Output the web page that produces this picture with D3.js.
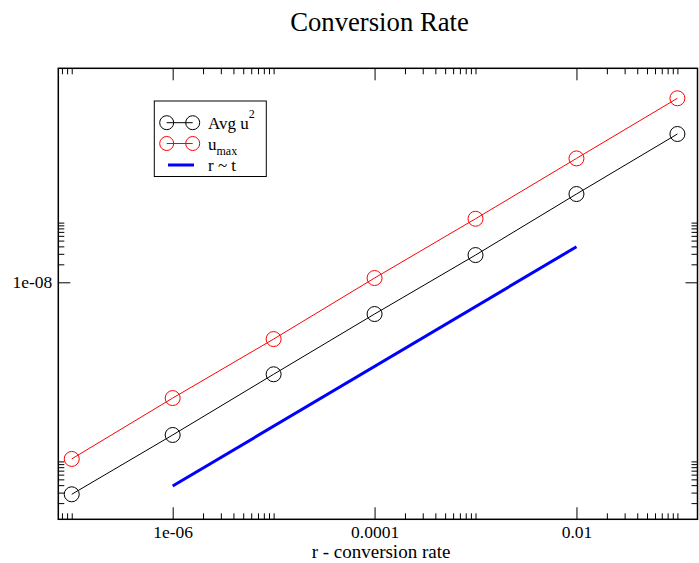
<!DOCTYPE html>
<html lang="en">
<head>
    <meta charset="UTF-8">
    <title>Conversion Rate</title>
    <script src="https://d3js.org/d3.v7.min.js"></script>
    <style>
        body { margin: 0; background: #fff; }
        svg text { font-family: "Liberation Serif"; }
    </style>
</head>
<body>
<script>
    // conversion rate r (x) and the two measured series
    const rates = [1e-7, 1e-6, 1e-5, 1e-4, 1e-3, 1e-2, 1e-1];
    const avgU2 = [2.81e-12, 2.77e-11, 2.88e-10, 2.94e-9, 2.86e-8, 3.01e-7, 3.05e-6];
    const uMax = [1.10e-11, 1.15e-10, 1.12e-9, 1.18e-8, 1.16e-7, 1.19e-6, 1.21e-5];
    // reference slope line r ~ t
    const refRates = [1e-6, 1e-2];
    const refValues = [3.87e-12, 3.94e-8];

    const xMajor = [1e-8, 1e-6, 1e-4, 1e-2, 1];
    const xLabels = ["1e-08", "1e-06", "0.0001", "0.01", "1"];
    const yMajor = [1e-12, 1e-8, 1e-4];
    const yLabels = ["1e-12", "1e-08", "0.0001"];

    const width = 699, height = 563;
    const pLeft = 58.3, pRight = 697.5, pTop = 68.3, pBottom = 519.3;
    const fontName = '"Liberation Serif"';

    const svg = d3.select("body").append("svg").attr("width", width).attr("height", height)
        .style("font-family", fontName);

    const x = d3.scaleLog().domain([Math.pow(10, -7.133), Math.pow(10, -0.801)]).range([pLeft, pRight]);
    const y = d3.scaleLog().domain([Math.pow(10, -11.97), Math.pow(10, -4.415)]).range([pBottom, pTop]);

    // minor ticks: 2..10 times each major, grace style
    const minors = majors => majors.flatMap(m => d3.range(2, 11).map(k => k * m));
    const inX = v => v >= x.domain()[0] && v <= x.domain()[1];
    const inY = v => v >= y.domain()[0] && v <= y.domain()[1];
    const xMinor = minors(xMajor).filter(inX);
    const yMinor = minors(yMajor).filter(inY);
    const xMaj = xMajor.filter(inX);
    const yMaj = yMajor.filter(inY);

    const fmtX = d => xLabels[xMajor.indexOf(d)];
    const fmtY = d => yLabels[yMajor.indexOf(d)];

    function axisGroup(axis, tx, ty) {
        const g = svg.append("g").attr("transform", `translate(${tx},${ty})`).call(axis);
        g.attr("font-family", null).attr("font-size", null);
        g.select(".domain").remove();
        g.selectAll("line").attr("stroke", "#000");
        g.selectAll("text").style("font-size", "17.5px").style("font-family", fontName).attr("fill", "#000");
        return g;
    }

    // bottom / top
    axisGroup(d3.axisBottom(x).tickValues(xMaj).tickSizeInner(-12).tickSizeOuter(0).tickPadding(6.5).tickFormat(fmtX), 0, pBottom);
    axisGroup(d3.axisBottom(x).tickValues(xMinor).tickSizeInner(-6).tickSizeOuter(0).tickFormat(""), 0, pBottom);
    axisGroup(d3.axisTop(x).tickValues(xMaj).tickSizeInner(-12).tickSizeOuter(0).tickFormat(""), 0, pTop);
    axisGroup(d3.axisTop(x).tickValues(xMinor).tickSizeInner(-6).tickSizeOuter(0).tickFormat(""), 0, pTop);
    // left / right
    axisGroup(d3.axisLeft(y).tickValues(yMaj).tickSizeInner(-12).tickSizeOuter(0).tickPadding(6).tickFormat(fmtY), pLeft, 0);
    axisGroup(d3.axisLeft(y).tickValues(yMinor).tickSizeInner(-6).tickSizeOuter(0).tickFormat(""), pLeft, 0);
    axisGroup(d3.axisRight(y).tickValues(yMaj).tickSizeInner(-12).tickSizeOuter(0).tickFormat(""), pRight, 0);
    axisGroup(d3.axisRight(y).tickValues(yMinor).tickSizeInner(-6).tickSizeOuter(0).tickFormat(""), pRight, 0);

    svg.append("rect")
        .attr("x", pLeft).attr("y", pTop)
        .attr("width", pRight - pLeft).attr("height", pBottom - pTop)
        .attr("fill", "none").attr("stroke", "#000").attr("stroke-width", 1.5);

    const line = d3.line().x(d => x(d[0])).y(d => y(d[1]));

    const series = [
        { values: avgU2, color: "#000" },
        { values: uMax, color: "#f00" }
    ];
    series.forEach(s => {
        const pts = rates.map((r, i) => [r, s.values[i]]);
        svg.append("path").datum(pts).attr("d", line)
            .attr("fill", "none").attr("stroke", s.color).attr("stroke-width", 1);
        svg.selectAll(null).data(pts).enter().append("circle")
            .attr("cx", d => x(d[0])).attr("cy", d => y(d[1])).attr("r", 7.5)
            .attr("fill", "none").attr("stroke", s.color).attr("stroke-width", 1);
    });

    svg.append("path").datum(refRates.map((r, i) => [r, refValues[i]])).attr("d", line)
        .attr("fill", "none").attr("stroke", "#00f").attr("stroke-width", 3);

    // title and axis label
    svg.append("text").attr("x", 379.5).attr("y", 31)
        .attr("text-anchor", "middle").style("font-size", "26.7px").text("Conversion Rate");
    svg.append("text").attr("x", 381).attr("y", 558)
        .attr("text-anchor", "middle").style("font-size", "19px").text("r - conversion rate");

    // legend
    const lg = svg.append("g");
    lg.append("rect").attr("x", 154.3).attr("y", 101).attr("width", 112).attr("height", 75.5)
        .attr("fill", "#fff").attr("stroke", "#000").attr("stroke-width", 1);
    const rows = [
        { y: 122.7, color: "#000", kind: "sym", label: ["Avg u", "2", "sup"] },
        { y: 143.5, color: "#f00", kind: "sym", label: ["u", "max", "sub"] },
        { y: 165, color: "#00f", kind: "line", label: ["r ~ t"] }
    ];
    rows.forEach(r => {
        if (r.kind === "sym") {
            lg.append("line").attr("x1", 166.7).attr("x2", 192.7).attr("y1", r.y).attr("y2", r.y)
                .attr("stroke", r.color).attr("stroke-width", 1);
            [166.7, 192.7].forEach(cx => lg.append("circle").attr("cx", cx).attr("cy", r.y).attr("r", 7)
                .attr("fill", "none").attr("stroke", r.color).attr("stroke-width", 1));
        } else {
            lg.append("line").attr("x1", 168).attr("x2", 194).attr("y1", r.y).attr("y2", r.y)
                .attr("stroke", r.color).attr("stroke-width", 3);
        }
        const t = lg.append("text").attr("x", 208).attr("y", r.y + 6).style("font-size", "17px");
        t.append("tspan").text(r.label[0]);
        if (r.label[2] === "sup") {
            t.append("tspan").attr("dy", -11).style("font-size", "12px").text(r.label[1]);
        } else if (r.label[2] === "sub") {
            t.append("tspan").attr("dy", 5).style("font-size", "12px").text(r.label[1]);
        }
    });
</script>
</body>
</html>
